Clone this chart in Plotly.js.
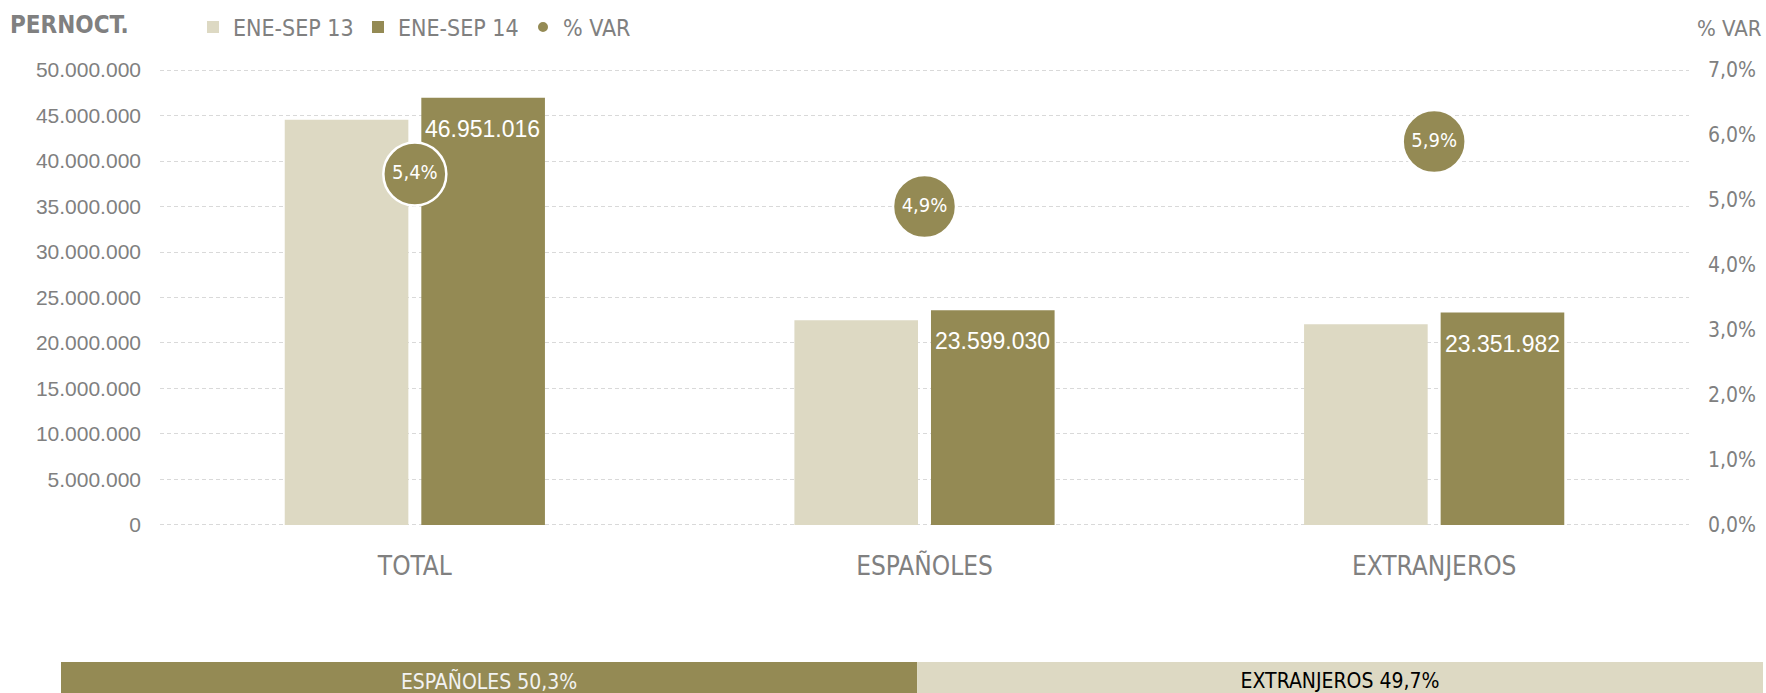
<!DOCTYPE html>
<html>
<head>
<meta charset="utf-8">
<script src="https://cdn.plot.ly/plotly-3.0.1.min.js"></script>
<style>
html,body{margin:0;padding:0;background:#fff;}
#chart{width:1766px;height:693px;}
</style>
</head>
<body>
<div id="chart"></div>
<script>
// ---- data ----
const categories = ['TOTAL', 'ESPAÑOLES', 'EXTRANJEROS'];
const values2013 = [44545000, 22497000, 22051000];
const values2014 = [46951016, 23599030, 23351982];
const pctVar = [5.4, 4.9, 5.9];
const seriesNames = ['ENE-SEP 13', 'ENE-SEP 14', '% VAR'];
const shareLabels = ['ESPAÑOLES', 'EXTRANJEROS'];
const shareValues = [50.3, 49.7];

// ---- styles ----
const W = 1766, H = 693;
const NARROW = 'Liberation Sans Narrow, Arial Narrow, DejaVu Sans Condensed, sans-serif';
const REG = 'Liberation Sans, Arial, sans-serif';
const GRAY = '#808080';
const LIGHT = '#ddd9c3';
const DARK = '#948a54';

function fmtThousands(n) {
  return String(Math.round(n)).replace(/\B(?=(\d{3})+(?!\d))/g, '.');
}
function fmtPct(v) {
  return v.toFixed(1).replace('.', ',') + '%';
}

const traces = [
  {
    type: 'bar', name: seriesNames[0], x: categories, y: values2013,
    marker: {color: LIGHT, line: {width: 0}}, xaxis: 'x', yaxis: 'y',
    hoverinfo: 'skip'
  },
  {
    type: 'bar', name: seriesNames[1], x: categories, y: values2014,
    marker: {color: DARK, line: {width: 0}}, xaxis: 'x', yaxis: 'y',
    hoverinfo: 'skip'
  },
  {
    type: 'scatter', mode: 'markers', name: seriesNames[2], x: categories, y: pctVar,
    xaxis: 'x', yaxis: 'y2', cliponaxis: false,
    marker: {color: DARK, size: 63, line: {color: '#ffffff', width: 2.5}},
    hoverinfo: 'skip'
  },
  {
    type: 'scatter', mode: 'text', showlegend: false, x: categories, y: pctVar,
    xaxis: 'x', yaxis: 'y2', cliponaxis: false,
    text: pctVar.map(fmtPct), textposition: 'middle center',
    textfont: {family: NARROW, size: 20, color: '#ffffff'},
    hoverinfo: 'skip'
  },
  // bottom share strip
  {
    type: 'bar', orientation: 'h', showlegend: false,
    x: [shareValues[0]], y: [0], base: [0], width: 1, offset: -0.5,
    xaxis: 'x3', yaxis: 'y3',
    marker: {color: DARK, line: {width: 0}},
    text: [shareLabels[0] + ' ' + fmtPct(shareValues[0])],
    textposition: 'inside', insidetextanchor: 'middle', constraintext: 'none', textangle: 0,
    textfont: {family: NARROW, size: 21, color: '#f2f2f2'},
    hoverinfo: 'skip'
  },
  {
    type: 'bar', orientation: 'h', showlegend: false,
    x: [shareValues[1]], y: [0], base: [shareValues[0]], width: 1, offset: -0.5,
    xaxis: 'x3', yaxis: 'y3',
    marker: {color: LIGHT, line: {width: 0}},
    text: [shareLabels[1] + ' ' + fmtPct(shareValues[1])],
    textposition: 'inside', insidetextanchor: 'middle', constraintext: 'none', textangle: 0,
    textfont: {family: NARROW, size: 21, color: '#000000'},
    hoverinfo: 'skip'
  }
];

const barLabelAnnotations = categories.map((c, i) => ({
  xref: 'x', yref: 'y', x: c, y: values2014[i],
  xshift: 68, yshift: -31, showarrow: false,
  xanchor: 'center', yanchor: 'middle',
  text: fmtThousands(values2014[i]),
  font: {family: REG, size: 23, color: '#ffffff'}
}));

const layout = {
  width: W, height: H,
  margin: {l: 0, r: 0, t: 0, b: 0, pad: 0},
  paper_bgcolor: '#ffffff', plot_bgcolor: 'rgba(0,0,0,0)',
  separators: ',.',
  barmode: 'group', bargap: 0.464, bargroupgap: 0.095,
  showlegend: true,
  title: {
    text: '<b>PERNOCT.</b>', xref: 'paper', yref: 'paper',
    x: 10 / W, xanchor: 'left', y: 1 - 25 / H, yanchor: 'middle',
    font: {family: NARROW, size: 24, color: GRAY}
  },
  legend: {
    orientation: 'h', x: 193 / W, xanchor: 'left', y: 1 - 5.5 / H, yanchor: 'top',
    entrywidth: 120, entrywidthmode: 'pixels', itemsizing: 'constant',
    traceorder: 'normal', bgcolor: 'rgba(0,0,0,0)', borderwidth: 0,
    font: {family: NARROW, size: 23, color: GRAY}
  },
  xaxis: {
    domain: [160 / W, 1689 / W], anchor: 'y', type: 'category',
    showgrid: false, zeroline: false, showline: false, ticks: '',
    tickfont: {family: NARROW, size: 26, color: GRAY},
    ticklabelstandoff: 20, fixedrange: true
  },
  yaxis: {
    domain: [1 - 527.7 / H, 1 - 67.3 / H], anchor: 'x',
    range: [-300000, 50300000], dtick: 5000000, tick0: 0, tickformat: ',d',
    showgrid: true, gridcolor: '#d9d9d9', gridwidth: 1, griddash: '4px,3px',
    zeroline: false, showline: false, ticks: '',
    tickfont: {family: REG, size: 21, color: GRAY},
    ticklabelstandoff: 18, automargin: false, fixedrange: true
  },
  yaxis2: {
    overlaying: 'y', side: 'right', anchor: 'x',
    range: [-0.042, 7.042], dtick: 1, tick0: 0, tickformat: '.1f', ticksuffix: '%',
    showgrid: false, zeroline: false, showline: false, ticks: '',
    tickfont: {family: NARROW, size: 21, color: GRAY},
    ticklabelstandoff: 18, automargin: false, fixedrange: true
  },
  xaxis3: {
    domain: [61 / W, 1763 / W], anchor: 'y3', range: [0, 100], visible: false, fixedrange: true
  },
  yaxis3: {
    domain: [0, 31 / H], anchor: 'x3', range: [-0.316, 0.5], visible: false, fixedrange: true
  },
  annotations: barLabelAnnotations.concat([
    {
      xref: 'paper', yref: 'paper', x: 1764 / W, xanchor: 'right', y: 1 - 28 / H, yanchor: 'middle',
      text: '% VAR', showarrow: false,
      font: {family: NARROW, size: 22, color: GRAY}
    }
  ])
};

Plotly.newPlot('chart', traces, layout, {displayModeBar: false, staticPlot: true});
</script>
</body>
</html>
